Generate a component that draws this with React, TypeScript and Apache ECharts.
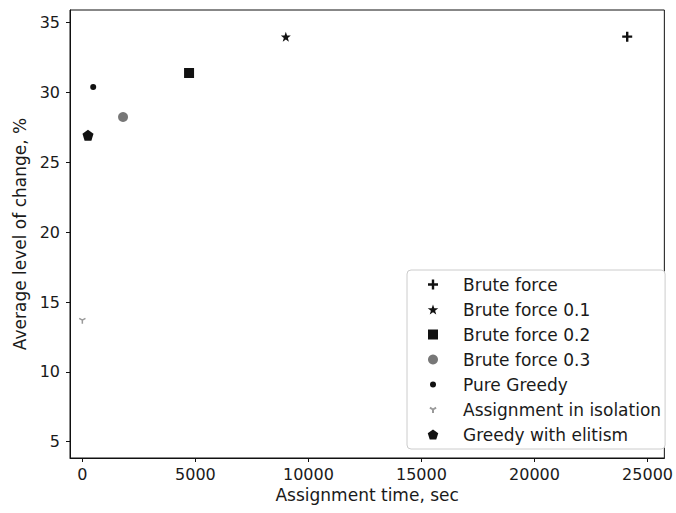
import React, { useEffect, useRef } from "react";
import * as echarts from "echarts";

// ---- data ----
const seriesNames = [
  "Brute force",
  "Brute force 0.1",
  "Brute force 0.2",
  "Brute force 0.3",
  "Pure Greedy",
  "Assignment in isolation",
  "Greedy with elitism",
];
const timeSec = [24100, 9000, 4720, 1800, 480, 0, 250];
const changePct = [34.0, 34.0, 31.4, 28.25, 30.4, 13.7, 26.95];
const xTicks = [0, 5000, 10000, 15000, 20000, 25000];
const yTicks = [5, 10, 15, 20, 25, 30, 35];

// ---- marker styles ----
const PLUS = "path://M3.8,0H6.2V3.8H10V6.2H6.2V10H3.8V6.2H0V3.8H3.8Z";
const STAR =
  "path://M5,0L6.176,3.382L9.755,3.455L6.902,5.618L7.939,9.045L5,7L2.061,9.045L3.098,5.618L0.245,3.455L3.824,3.382Z";
const PENT = "path://M5,0L9.755,3.455L7.939,9.045L2.061,9.045L0.245,3.455Z";
const SQUARE = "path://M0,0H10V10H0Z";
const DOT = "path://M0,0M10,10M8,5A3,3,0,1,1,2,5A3,3,0,1,1,8,5Z";
const TRI = "path://M0,0M10,10M5,5L5,8.6M5,5L1.9,3.2M5,5L8.1,3.2";

const markerStyles = [
  { symbol: PLUS, size: 10, color: "#111" },
  { symbol: STAR, size: 10, color: "#111" },
  { symbol: SQUARE, size: 10, color: "#111" },
  { symbol: "circle", size: 10, color: "#777" },
  { symbol: DOT, size: 10, color: "#111" },
  { symbol: TRI, size: 10, color: "rgba(0,0,0,0)", stroke: "#9a9a9a" },
  { symbol: PENT, size: 11, color: "#111" },
];

const FONT = "DejaVu Sans";
const TXT = "#1a1a1a";

export default function App() {
  const ref = useRef<HTMLDivElement>(null);
  useEffect(() => {
    document.body.style.margin = "0";
    const chart = echarts.init(ref.current!, null, { renderer: "svg" });
    const series = seriesNames.map((name, i) => {
      const m = markerStyles[i];
      return {
        name,
        type: "scatter",
        symbol: m.symbol,
        symbolSize: m.size,
        data: [[timeSec[i], changePct[i]]],
        itemStyle: m.stroke
          ? { color: m.color, borderColor: m.stroke, borderWidth: 1.5, opacity: 1 }
          : { color: m.color, opacity: 1 },
        emphasis: { disabled: true },
      };
    });
    chart.setOption({
      animation: false,
      textStyle: { fontFamily: FONT, color: TXT },
      grid: {
        left: 70,
        right: 5,
        top: 10,
        bottom: 55,
        show: true,
        borderColor: "#111",
        borderWidth: 1,
        containLabel: false,
      },
      xAxis: {
        type: "value",
        min: -546,
        max: 25743,
        name: "Assignment time, sec",
        nameLocation: "middle",
        nameGap: 28,
        nameTextStyle: { fontFamily: FONT, fontSize: 17, color: TXT },
        axisLine: { show: true, onZero: false, lineStyle: { color: "#111", width: 1 } },
        axisTick: { show: true, customValues: xTicks, length: 4, lineStyle: { color: "#111" } },
        axisLabel: {
          customValues: xTicks,
          formatter: (v: number) => String(v),
          fontFamily: FONT,
          fontSize: 16,
          color: TXT,
          margin: 8,
        },
        splitLine: { show: false },
      },
      yAxis: {
        type: "value",
        min: 3.83,
        max: 35.91,
        name: "Average level of change, %",
        nameLocation: "middle",
        nameGap: 42,
        nameTextStyle: { fontFamily: FONT, fontSize: 17, color: TXT },
        axisLine: { show: true, onZero: false, lineStyle: { color: "#111", width: 1 } },
        axisTick: { show: true, customValues: yTicks, length: 4, lineStyle: { color: "#111" } },
        axisLabel: {
          customValues: yTicks,
          formatter: (v: number) => String(v),
          fontFamily: FONT,
          fontSize: 16,
          color: TXT,
          margin: 10,
        },
        splitLine: { show: false },
      },
      legend: {
        orient: "vertical",
        left: 407,
        top: 270,
        padding: [6, 4, 6, 20],
        itemWidth: 50,
        itemHeight: 10,
        itemGap: 8,
        backgroundColor: "#fff",
        borderColor: "#ccc",
        borderWidth: 1,
        borderRadius: 4,
        selectedMode: false,
        textStyle: { fontFamily: FONT, fontSize: 17, color: TXT, lineHeight: 17 },
        data: seriesNames,
      },
      series,
    });
    return () => chart.dispose();
  }, []);
  return <div ref={ref} style={{ width: 676, height: 513 }} />;
}
